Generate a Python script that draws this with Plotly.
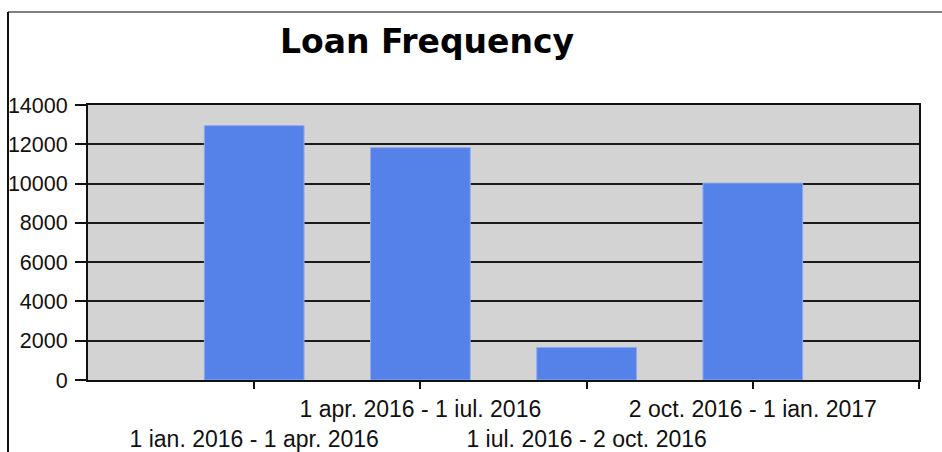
import plotly.graph_objects as go

categories = [
    "1 ian. 2016 - 1 apr. 2016",
    "1 apr. 2016 - 1 iul. 2016",
    "1 iul. 2016 - 2 oct. 2016",
    "2 oct. 2016 - 1 ian. 2017",
]
loan_counts = [12950, 11830, 1660, 10020]
y_ticks = [0, 2000, 4000, 6000, 8000, 10000, 12000, 14000]
y_tick_labels = ["0", "2000", "4000", "6000", "8000", "10000", "12000", "14000"]

W, H = 942, 452
L, R, T, B = 88, 23, 105, 72
pw, ph = W - L - R, H - T - B

positions = list(range(1, len(categories) + 1))
# staggered tick labels: odd ones on the lower row
tick_text = [("<br>" + c) if i % 2 == 0 else c for i, c in enumerate(categories)]

fig = go.Figure()
fig.add_trace(go.Bar(
    x=positions, y=loan_counts, width=0.6,
    marker=dict(color="#5582E8", line=dict(color="#8FAAF2", width=1)),
    hoverinfo="x+y",
))

def px2x(px):
    return (px - L) / pw

def py2y(py):
    return (H - B - py) / ph

fig.update_layout(
    width=W, height=H,
    margin=dict(l=L, r=R, t=T, b=B, autoexpand=False),
    paper_bgcolor="white", plot_bgcolor="#D3D3D3",
    showlegend=False,
    title=dict(text="<b>Loan Frequency</b>", xref="container", yref="container",
               x=427 / W, y=1 - 41 / H, xanchor="center", yanchor="middle",
               font=dict(family="DejaVu Sans", size=33, color="black")),
    font=dict(family="Liberation Sans, Arial", size=22, color="#111111"),
    xaxis=dict(range=[0, 5], tickvals=positions + [5], ticktext=tick_text + [""],
               tickangle=0, tickfont=dict(size=23),
               ticks="outside", ticklen=7, tickwidth=2, tickcolor="#111111",
               showgrid=False, zeroline=False, showline=True, linecolor="#111111",
               linewidth=2, mirror=True, ticklabelstandoff=0),
    yaxis=dict(range=[0, 14000], tickvals=y_ticks, ticktext=y_tick_labels,
               tickfont=dict(size=21.5),
               ticks="outside", ticklen=11,
               tickwidth=2, tickcolor="#111111", showgrid=True, gridcolor="#1A1A1A",
               gridwidth=2, zeroline=False, showline=True, linecolor="#111111",
               linewidth=2, mirror=True, ticklabelstandoff=3),
    shapes=[
        dict(type="line", xref="paper", yref="paper", x0=px2x(8), x1=px2x(W + 2),
             y0=py2y(12), y1=py2y(12), line=dict(color="#808080", width=2)),
        dict(type="line", xref="paper", yref="paper", x0=px2x(8), x1=px2x(8),
             y0=py2y(12), y1=py2y(H + 2), line=dict(color="#111111", width=2)),
    ],
)

fig.write_html("out.html", config={"displayModeBar": False},
               post_script="document.body.style.margin='0';document.body.style.overflow='hidden';")
